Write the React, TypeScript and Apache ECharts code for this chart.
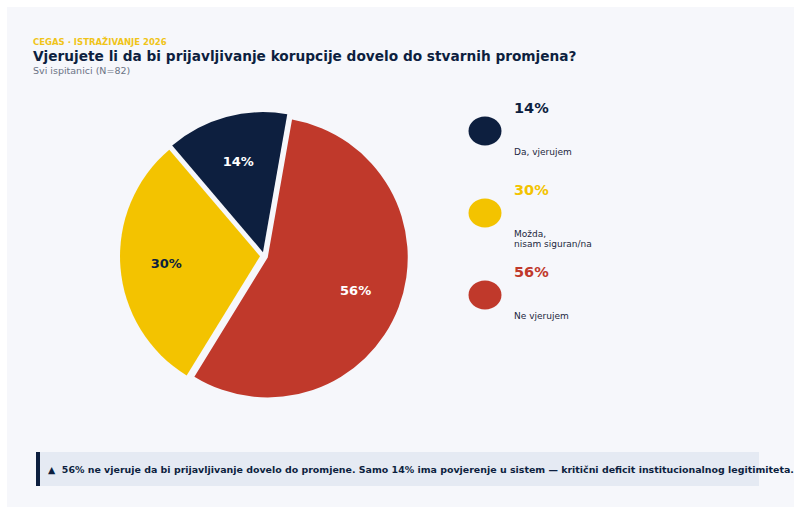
import React, { useEffect, useRef } from "react";
import * as echarts from "echarts";

const categories = ["Da, vjerujem", "Možda,\nnisam siguran/na", "Ne vjerujem"];
const values = [14, 30, 56];
const colors = ["#0d1f3f", "#f3c300", "#c0392b"];
const pieLabelColors = ["#ffffff", "#0d1f3f", "#ffffff"];

const kicker = "CEGAS · ISTRAŽIVANJE 2026";
const title = "Vjerujete li da bi prijavljivanje korupcije dovelo do stvarnih promjena?";
const subtitle = "Svi ispitanici (N=82)";
const footnote =
  "▲  56% ne vjeruje da bi prijavljivanje dovelo do promjene. Samo 14% ima povjerenje u sistem — kritični deficit institucionalnog legitimiteta.";

const FONT = "DejaVu Sans";

export default function App() {
  const ref = useRef<HTMLDivElement>(null);
  useEffect(() => {
    if (!ref.current) return;
    const chart = echarts.init(ref.current, null, { renderer: "svg" });
    const cx = 264;
    const cy = 256;
    const R = 140;

    const legendGraphics: any[] = [];
    const legendX = 485;
    const step = 82;
    categories.forEach((c, i) => {
      const yc = 131 + i * step;
      legendGraphics.push({
        type: "ellipse",
        shape: { cx: legendX, cy: yc, rx: 16.5, ry: 14.5 },
        style: { fill: colors[i] },
        silent: true,
      });
      legendGraphics.push({
        type: "text",
        x: 514,
        y: yc - 23,
        style: {
          text: values[i] + "%",
          fill: colors[i],
          font: `bold 14.5px "${FONT}"`,
          textAlign: "left",
          textVerticalAlign: "middle",
        },
        silent: true,
      });
      const lines = c.split("\n").length;
      legendGraphics.push({
        type: "text",
        x: 514,
        y: yc + 21 + (lines - 1) * 5,
        style: {
          text: c,
          fill: "#1c2740",
          font: `9px "${FONT}"`,
          lineHeight: 10.5,
          textAlign: "left",
          textVerticalAlign: "middle",
        },
        silent: true,
      });
    });

    chart.setOption({
      animation: false,
      backgroundColor: "#ffffff",
      graphic: [
        {
          type: "rect",
          shape: { x: 7, y: 7, width: 787, height: 500 },
          style: { fill: "#f6f7fb" },
          silent: true,
          z: -10,
        },
        {
          type: "text",
          x: 33,
          y: 42,
          style: {
            text: kicker,
            fill: "#f0c419",
            font: `bold 8.5px "${FONT}"`,
            textVerticalAlign: "middle",
          },
          silent: true,
        },
        {
          type: "text",
          x: 33,
          y: 55.5,
          style: {
            text: title,
            fill: "#0d1f3f",
            font: `bold 13.7px "${FONT}"`,
            textVerticalAlign: "middle",
          },
          silent: true,
        },
        {
          type: "text",
          x: 33,
          y: 70.5,
          style: {
            text: subtitle,
            fill: "#6b7485",
            font: `9.5px "${FONT}"`,
            textVerticalAlign: "middle",
          },
          silent: true,
        },
        {
          type: "rect",
          shape: { x: 36, y: 452, width: 723, height: 34 },
          style: { fill: "#e5eaf3" },
          silent: true,
        },
        {
          type: "rect",
          shape: { x: 36, y: 452, width: 4, height: 34 },
          style: { fill: "#0d1f3f" },
          silent: true,
        },
        {
          type: "text",
          x: 48,
          y: 469,
          style: {
            text: footnote,
            fill: "#0d1f3f",
            font: `bold 9.45px "${FONT}"`,
            textVerticalAlign: "middle",
          },
          silent: true,
        },
        ...legendGraphics,
      ],
      series: [
        {
          type: "pie",
          center: [cx, cy],
          radius: [0, R],
          startAngle: 80,
          clockwise: false,
          selectedMode: "multiple",
          selectedOffset: 4,
          avoidLabelOverlap: false,
          label: { show: false },
          labelLine: { show: false },
          emphasis: { disabled: true },
          data: values.map((v, i) => ({
            name: categories[i],
            value: v,
            selected: true,
            itemStyle: { color: colors[i] },
          })),
        },
        {
          type: "pie",
          center: [cx, cy],
          radius: [50, R],
          startAngle: 80,
          clockwise: false,
          silent: true,
          avoidLabelOverlap: false,
          itemStyle: { color: "rgba(0,0,0,0)" },
          labelLine: { show: false },
          emphasis: { disabled: true },
          z: 5,
          data: values.map((v, i) => ({
            name: categories[i],
            value: v,
            label: {
              show: true,
              position: "inside",
              formatter: v + "%",
              color: pieLabelColors[i],
              fontFamily: FONT,
              fontWeight: "bold",
              fontSize: 13,
            },
          })),
        },
      ],
    });
    return () => chart.dispose();
  }, []);
  return (
    <div
      ref={ref}
      style={{ position: "fixed", left: 0, top: 0, width: 794, height: 508 }}
    />
  );
}
